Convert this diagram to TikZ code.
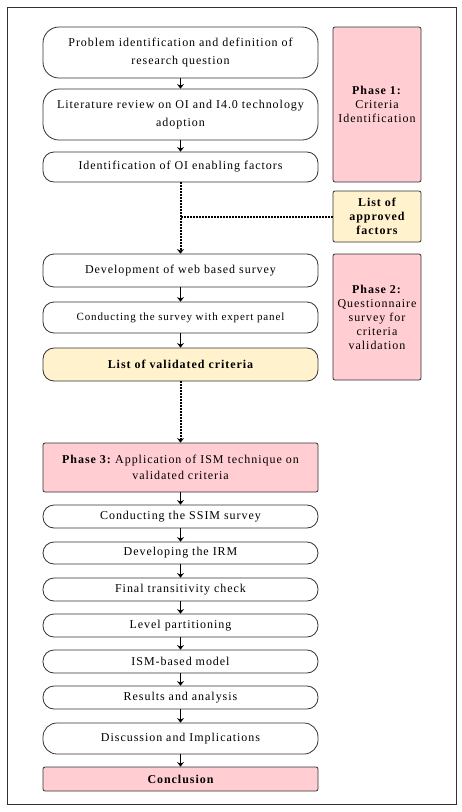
\documentclass[tikz,border=0pt]{standalone}
\usepackage{fontspec}
\setmainfont{Liberation Serif}[LetterSpace=8]
\usepackage{tikz}
\usetikzlibrary{positioning,arrows.meta}
\usepackage{xcolor}
\definecolor{phasepink}{RGB}{255,205,210}
\definecolor{listyellow}{RGB}{255,242,204}
\definecolor{edgegray}{RGB}{50,50,50}

\begin{document}
\begin{tikzpicture}[x=1pt,y=-1pt,>={Stealth[length=4.5pt,width=7pt]},
  stepbox/.style={draw=edgegray,line width=0.8pt,rounded corners=11pt,minimum width=275pt,align=center,font=\fontsize{12}{18}\selectfont,inner sep=2pt},
  phasebox/.style={draw=edgegray,line width=0.8pt,fill=phasepink,rounded corners=2pt,align=center,font=\fontsize{12}{14}\selectfont},
  flow/.style={->,line width=1.2pt},
  dots/.style={line width=2pt,dash pattern=on 1.6pt off 1.4pt}]
\useasboundingbox (0,0) rectangle (462,812);
\draw[edgegray,line width=0.9pt] (7,7) rectangle (456,804);
% phase 1
\node[stepbox,minimum height=51pt,rounded corners=16pt] (prob) at (180.5,52.5) {Problem identification and definition of\\research question};
\node[stepbox,minimum height=51pt,rounded corners=16pt] (lit) at (180.5,114.5) {Literature review on OI and I4.0 technology\\adoption};
\node[stepbox,minimum height=30pt] (ident) at (180.5,167) {Identification of OI enabling factors};
\node[phasebox,minimum width=88pt,minimum height=155pt] (ph1) at (377,104.5) {\textbf{Phase 1:}\\Criteria\\Identification};
\node[phasebox,fill=listyellow,minimum width=88pt,minimum height=51pt,font=\bfseries\fontsize{12}{14}\selectfont] (appr) at (377,216.5) {List of\\approved\\factors};
% phase 2
\node[stepbox,minimum height=33pt] (web) at (180.5,270.5) {Development of web based survey};
\node[stepbox,minimum height=31pt,font=\fontsize{11}{12}\selectfont] (expert) at (180.5,317.5) {Conducting the survey with expert panel};
\node[stepbox,fill=listyellow,minimum height=33pt,font=\bfseries\fontsize{12}{14}\selectfont] (valid) at (180.5,364.5) {List of validated criteria};
\node[phasebox,minimum width=88pt,minimum height=126pt] (ph2) at (377,317) {\textbf{Phase 2:}\\Questionnaire\\survey for\\criteria\\validation};
% phase 3
\node[phasebox,minimum width=275pt,minimum height=49pt,font=\fontsize{12}{16}\selectfont] (ph3) at (180.5,467.5) {\textbf{Phase 3:}\hspace{-2pt} Application of ISM technique on\\validated criteria};
\node[stepbox,minimum height=23pt] (ssim) at (180.5,516.5) {Conducting the SSIM survey};
\node[stepbox,minimum height=22pt] (irm) at (180.5,553) {Developing the IRM};
\node[stepbox,minimum height=23pt] (trans) at (180.5,589.5) {Final transitivity check};
\node[stepbox,minimum height=23pt] (level) at (180.5,625.5) {Level partitioning};
\node[stepbox,minimum height=23pt] (ism) at (180.5,661.5) {ISM-based model};
\node[stepbox,minimum height=23pt] (res) at (180.5,697.5) {Results and analysis};
\node[stepbox,minimum height=31pt,rounded corners=14pt] (disc) at (180.5,738.5) {Discussion and Implications};
\node[phasebox,minimum width=275pt,minimum height=24pt,font=\bfseries\fontsize{12}{14}\selectfont] (concl) at (180.5,779) {Conclusion};
% arrows
\draw[flow] (prob) -- (lit);
\draw[flow] (lit) -- (ident);
\draw[flow] (web) -- (expert);
\draw[flow] (expert) -- (valid);
\draw[flow] (ph3) -- (ssim);
\draw[flow] (ssim) -- (irm);
\draw[flow] (irm) -- (trans);
\draw[flow] (trans) -- (level);
\draw[flow] (level) -- (ism);
\draw[flow] (ism) -- (res);
\draw[flow] (res) -- (disc);
\draw[flow] (disc) -- (concl);
% dotted links
\coordinate (join) at (ident.south |- appr.west);
\draw[dots,->] (ident) -- (web);
\draw[dots] (appr) -- (join);
\draw[dots,->] (valid) -- (ph3);
\end{tikzpicture}
\end{document}
